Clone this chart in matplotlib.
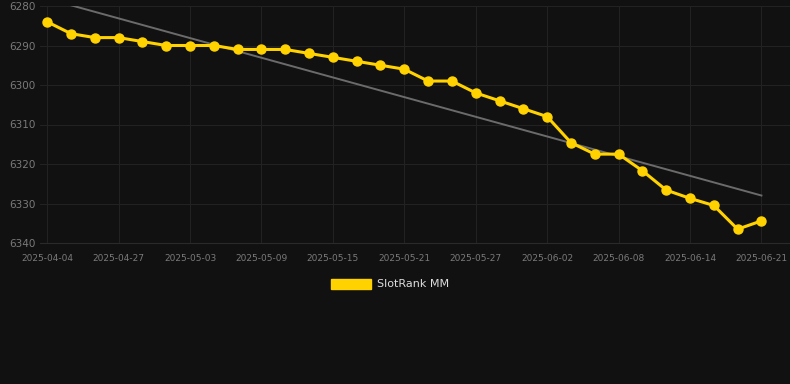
import numpy as np
import matplotlib.pyplot as plt
from matplotlib.patches import Patch

# dates (category axis, only every third one is labelled)
dates = ["2025-04-04", "2025-04-23", "2025-04-25", "2025-04-27", "2025-04-29",
         "2025-05-01", "2025-05-03", "2025-05-05", "2025-05-07", "2025-05-09",
         "2025-05-11", "2025-05-13", "2025-05-15", "2025-05-17", "2025-05-19",
         "2025-05-21", "2025-05-23", "2025-05-25", "2025-05-27", "2025-05-29",
         "2025-05-31", "2025-06-02", "2025-06-04", "2025-06-06", "2025-06-08",
         "2025-06-10", "2025-06-12", "2025-06-14", "2025-06-16", "2025-06-18",
         "2025-06-21"]
rank = [6284, 6287, 6288, 6288, 6289, 6290, 6290, 6290, 6291, 6291,
        6291, 6292, 6293, 6294, 6295, 6296, 6299, 6299, 6302, 6304,
        6306, 6308, 6314.6, 6317.5, 6317.5, 6321.7, 6326.6, 6328.7, 6330.5, 6336.5,
        6334.4]
series_name = "SlotRank MM"

bg = "#111111"
yellow = "#ffd200"

fig = plt.figure(figsize=(7.9, 3.84), dpi=100, facecolor=bg)
ax = fig.add_axes([40 / 790, 1 - 243 / 384, 750 / 790, 237 / 384], facecolor=bg)

x = np.arange(len(dates))

# linear trend
coef = np.polyfit(x, rank, 1)
ax.plot(x, np.polyval(coef, x), color="#6b6b6b", lw=1.4, zorder=2)

ax.plot(x, rank, color=yellow, lw=2.2, marker="o", markersize=6.5, zorder=3)

ax.set_ylim(6340, 6280)
ax.set_yticks([6280, 6290, 6300, 6310, 6320, 6330, 6340])
ax.set_xlim(-0.3, 31.2)
ax.set_xticks(x[::3])
ax.set_xticklabels(dates[::3])

ax.grid(True, color="#222222", lw=0.8)
ax.set_axisbelow(True)
for s in ["top", "right", "left"]:
    ax.spines[s].set_visible(False)
ax.spines["bottom"].set_color("#2a2a2a")
ax.tick_params(axis="y", length=0, labelsize=7.5, labelcolor="#7a7a7a", pad=3)
ax.tick_params(axis="x", length=0, labelsize=6.5, labelcolor="#7a7a7a", pad=8)

fig.legend(handles=[Patch(color=yellow, label=series_name)],
           loc="center", bbox_to_anchor=(390 / 790, 1 - 284 / 384),
           frameon=False, fontsize=8, labelcolor="#dddddd",
           handlelength=3.6, handleheight=1.0, handletextpad=0.5)

fig.savefig("out.png", facecolor=bg)
